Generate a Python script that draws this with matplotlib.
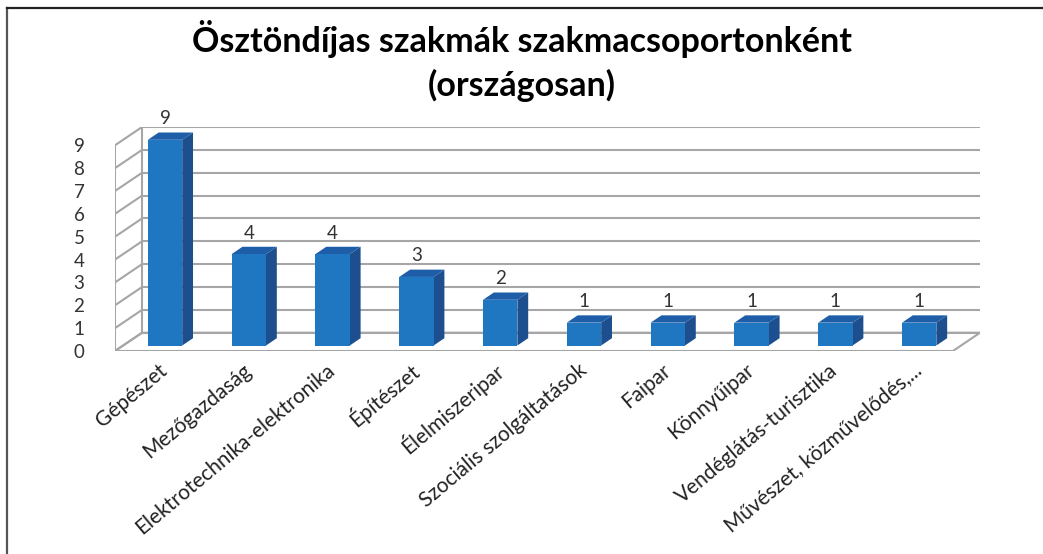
import matplotlib
matplotlib.use("Agg")
import matplotlib.pyplot as plt
from matplotlib.patches import Polygon
from matplotlib.lines import Line2D

plt.rcParams['font.family'] = ['Lato', 'DejaVu Sans']

# data
categories = ['Gépészet', 'Mezőgazdaság', 'Elektrotechnika-elektronika', 'Építészet',
              'Élelmiszeripar', 'Szociális szolgáltatások', 'Faipar', 'Könnyűipar',
              'Vendéglátás-turisztika', 'Művészet, közművelődés,...']
values = [9, 4, 4, 3, 2, 1, 1, 1, 1, 1]
yticks = list(range(0, 10))
title = 'Ösztöndíjas szakmák szakmacsoportonként\n(országosan)'

# oblique "3d" look: full depth shift in data units
DX, DY = 0.323, 0.8
D0, D1 = 0.3, 0.7      # bar front / back depth
W = 0.41               # bar width
grid_c = '#a6a6a6'
front_c, side_c, top_c = '#1f77c2', '#1d4f8e', '#1e5ea8'

def proj(x, y, d):
    return (x + d * DX, y + d * DY)

fig = plt.figure(figsize=(10.43, 5.54), dpi=100)
ax = fig.add_axes([115 / 1043, 1 - 351 / 554, 865 / 1043, 224 / 554])
n = len(categories)
ymax = max(yticks)
ax.set_xlim(-0.5, n - 0.5 + DX)
ax.set_ylim(0, ymax + DY)

# walls and floor
x0, x1 = -0.5, n - 0.5
floor = [proj(x0, 0, 0), proj(x1, 0, 0), proj(x1, 0, 1), proj(x0, 0, 1)]
ax.add_patch(Polygon(floor, closed=True, fc='white', ec=grid_c, lw=1.5, zorder=1))
for k in yticks:
    bx0, by = proj(x0, k, 1)
    bx1, _ = proj(x1, k, 1)
    ax.plot([bx0, bx1], [by, by], color=grid_c, lw=1.5, zorder=1)
    fx, fy = proj(x0, k, 0)
    ax.plot([fx, bx0], [fy, by], color=grid_c, lw=1.5, zorder=1)
ax.plot([x0, x0], [0, ymax], color=grid_c, lw=1.5, zorder=1)
bx0, by0 = proj(x0, 0, 1)
_, byt = proj(x0, ymax, 1)
ax.plot([bx0, bx0], [by0, byt], color=grid_c, lw=1.5, zorder=1)

# bars
for i, v in enumerate(values):
    l, r = i - W / 2, i + W / 2
    front = [proj(l, 0, D0), proj(r, 0, D0), proj(r, v, D0), proj(l, v, D0)]
    side = [proj(r, 0, D0), proj(r, 0, D1), proj(r, v, D1), proj(r, v, D0)]
    top = [proj(l, v, D0), proj(r, v, D0), proj(r, v, D1), proj(l, v, D1)]
    ax.add_patch(Polygon(side, closed=True, fc=side_c, ec='none', zorder=3))
    ax.add_patch(Polygon(top, closed=True, fc=top_c, ec='none', zorder=3))
    ax.add_patch(Polygon(front, closed=True, fc=front_c, ec='none', zorder=4))
    tx, ty = proj(i, v, D0)
    ax.text(tx, ty + 0.92, str(v), ha='center', va='center', fontsize=13.5,
            color='#333333', zorder=5)

for s in ax.spines.values():
    s.set_visible(False)
ax.set_yticks(yticks)
ax.set_yticklabels([str(t) for t in yticks], fontsize=13.5, color='#333333')
ax.set_xticks([proj(i, 0, D0)[0] for i in range(n)])
ax.set_xticklabels(categories, fontsize=15, color='#222222')
ax.tick_params(axis='y', length=0, pad=22)
ax.tick_params(axis='x', length=0, pad=12)
for lab in ax.get_xticklabels():
    lab.set_rotation(40)
    lab.set_ha('right')
    lab.set_va('center')
    lab.set_rotation_mode('anchor')

fig.text(0.5, 1 - 61 / 554, title, ha='center', va='center', fontsize=24.5,
         fontweight='bold', linespacing=1.4, color='black')

# frame lines
fig.add_artist(Line2D([7 / 1043, 7 / 1043], [0, 1 - 8 / 554], color='#555555', lw=1.6))
fig.add_artist(Line2D([7 / 1043, 1], [1 - 8 / 554, 1 - 8 / 554], color='#222222', lw=1.6))

fig.savefig('out.png', dpi=100)
